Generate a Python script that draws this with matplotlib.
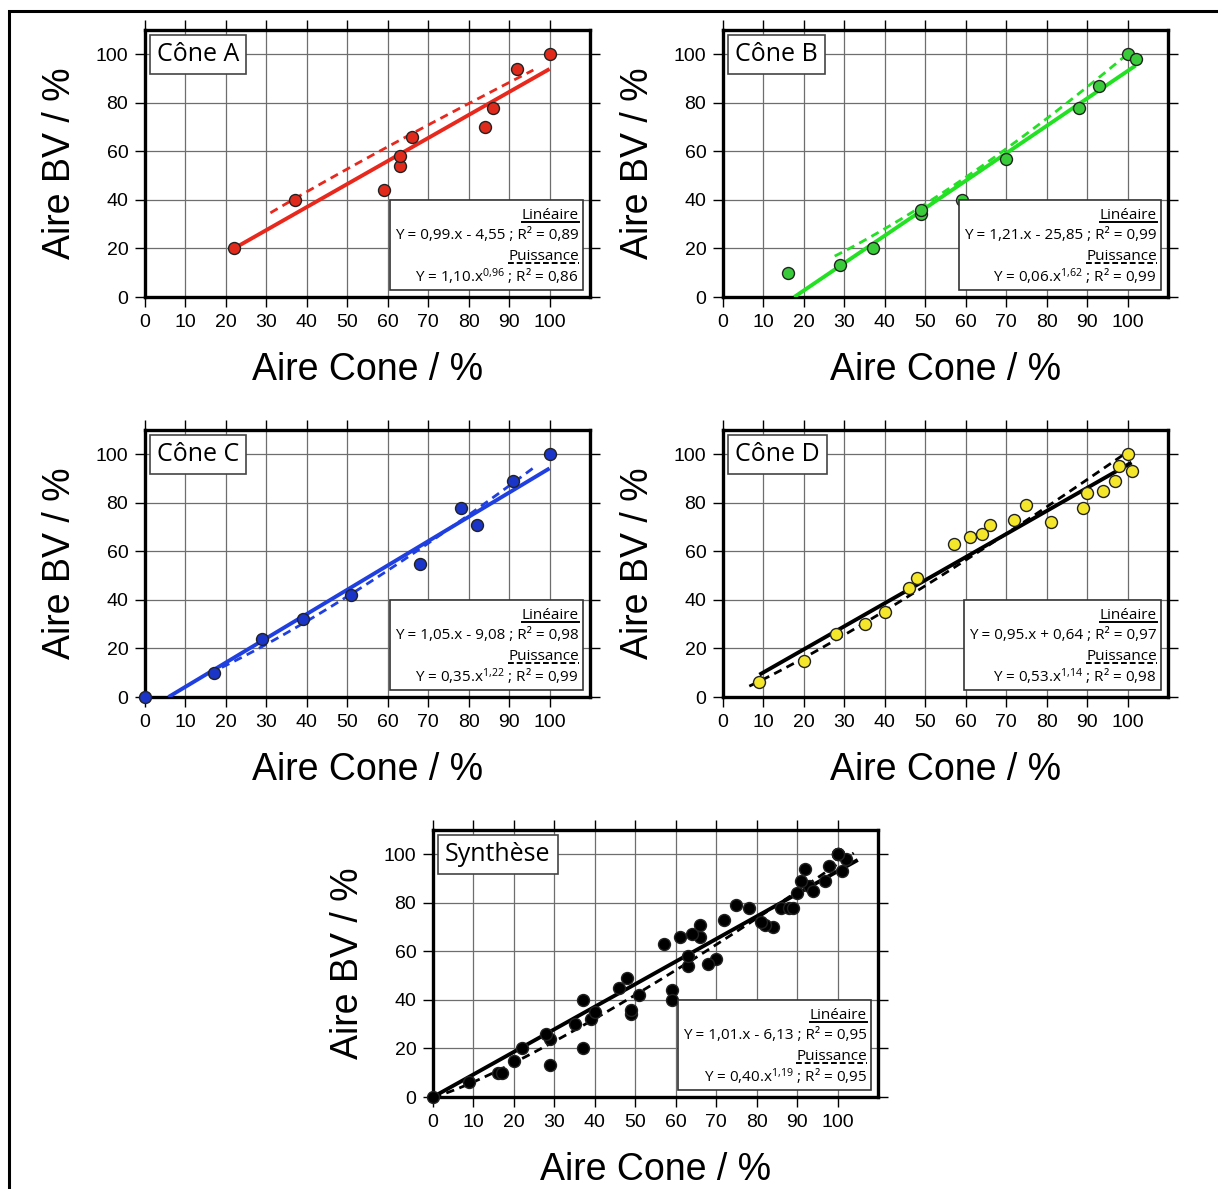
import numpy as np
import matplotlib
matplotlib.use('Agg')
import matplotlib.pyplot as plt
from matplotlib.patches import Rectangle

plt.rcParams['font.family'] = ['Liberation Sans', 'DejaVu Sans']
plt.rcParams['mathtext.default'] = 'regular'

# donnees (Aire Cone %, Aire BV %)
xa = [22, 37, 59, 63, 63, 66, 84, 86, 92, 100]
ya = [20, 40, 44, 54, 58, 66, 70, 78, 94, 100]
xb = [16, 29, 37, 49, 49, 59, 70, 88, 93, 100, 102]
yb = [10, 13, 20, 34, 36, 40, 57, 78, 87, 100, 98]
xc = [0, 17, 29, 39, 51, 68, 78, 82, 91, 100]
yc = [0, 10, 24, 32, 42, 55, 78, 71, 89, 100]
xd = [9, 20, 28, 35, 40, 46, 48, 57, 61, 64, 66, 72, 75, 81, 89, 90, 94, 97, 98, 100, 101]
yd = [6, 15, 26, 30, 35, 45, 49, 63, 66, 67, 71, 73, 79, 72, 78, 84, 85, 89, 95, 100, 93]
xs = xa + xb + xc + xd
ys = ya + yb + yc + yd

titres = ['Cône A', 'Cône B', 'Cône C', 'Cône D', 'Synthèse']
eq_lin = ['Y = 0,99.x - 4,55 ; R² = 0,89', 'Y = 1,21.x - 25,85 ; R² = 0,99',
          'Y = 1,05.x - 9,08 ; R² = 0,98', 'Y = 0,95.x + 0,64 ; R² = 0,97',
          'Y = 1,01.x - 6,13 ; R² = 0,95']
eq_pow = ['Y = 1,10.x$^{0{,}96}$ ; R² = 0,86', 'Y = 0,06.x$^{1{,}62}$ ; R² = 0,99',
          'Y = 0,35.x$^{1{,}22}$ ; R² = 0,99', 'Y = 0,53.x$^{1{,}14}$ ; R² = 0,98',
          'Y = 0,40.x$^{1{,}19}$ ; R² = 0,95']
# droites / courbes telles que tracees (pente, ordonnee, xmin, xmax) et (a, b, xmin, xmax)
lin_trace = [(0.948, -0.86, 22, 100), (1.13, -19.9, 17.6, 102), (1.0, -5.8, 5.8, 100),
             (0.95, 0.64, 9, 101), (0.93, 0.0, 0, 105)]
pow_trace = [(1.70, 0.878, 31, 96), (0.17, 1.385, 27.6, 100), (0.296, 1.263, 19, 96),
             (0.53, 1.14, 6.5, 100), (0.40, 1.19, 0.01, 104)]

couleur_pt = ['#e02a1c', '#3acb3a', '#1a35c8', '#f4e62a', '#000000']
couleur_ln = ['#e8281c', '#22e022', '#1f3fe0', '#000000', '#000000']

W, H = 1218, 1189
def rect(left, right, top, bottom):
	return [left / W, 1 - bottom / H, (right - left) / W, (bottom - top) / H]

positions = [rect(145, 590, 30, 297), rect(723, 1168, 30, 297),
             rect(145, 590, 430, 697), rect(723, 1168, 430, 697),
             rect(433, 878, 830, 1097)]
donnees = [(xa, ya), (xb, yb), (xc, yc), (xd, yd), (xs, ys)]

fig = plt.figure(figsize=(W / 100, H / 100), dpi=100)
fig.patches.append(Rectangle((9 / W, -0.02), 1.0, 1.02 - 11 / H, transform=fig.transFigure,
                             fill=False, ec='black', lw=2.2, clip_on=False))

axes = []
for i in range(5):
	ax = fig.add_axes(positions[i])
	x, y = donnees[i]
	ax.set_xlim(0, 110)
	ax.set_ylim(0, 110)
	ax.set_xticks(np.arange(0, 101, 10))
	ax.set_yticks(np.arange(0, 101, 20))
	ax.grid(True, color='#6e6e6e', lw=0.9)
	ax.set_axisbelow(True)
	ax.tick_params(direction='out', length=7, width=1, labelsize=14, pad=5,
	               top=True, right=True, colors='black')
	for s in ax.spines.values():
		s.set_linewidth(2.4)
	ax.set_xlabel('Aire Cone / %', fontsize=27, labelpad=15)
	ax.set_ylabel('Aire BV / %', fontsize=27, labelpad=13)

	m, c, x0, x1 = lin_trace[i]
	xx = np.linspace(x0, x1, 50)
	ax.plot(xx, m * xx + c, color=couleur_ln[i], lw=2.8, zorder=3, solid_capstyle='butt')
	a, b, x0, x1 = pow_trace[i]
	xx = np.linspace(x0, x1, 100)
	ax.plot(xx, a * xx ** b, color=couleur_ln[i], lw=2.0, ls=(0, (3, 2)), zorder=3)
	ax.scatter(x, y, s=74, c=couleur_pt[i], edgecolors='#222222', linewidths=1.0, zorder=4, clip_on=False)

	ax.text(0.027, 0.955, titres[i], transform=ax.transAxes, ha='left', va='top',
	        fontsize=18, family='Open Sans', zorder=8,
	        bbox=dict(boxstyle='square,pad=0.28', fc='white', ec='#444444', lw=1.2))
	axes.append(ax)

fig.canvas.draw()
renderer = fig.canvas.get_renderer()
for i, ax in enumerate(axes):
	lignes = ['Linéaire', eq_lin[i], 'Puissance', eq_pow[i]]
	ypos = [0.305, 0.229, 0.152, 0.075]
	txts = [ax.text(0.975, yy, s, transform=ax.transAxes, ha='right', va='center',
	                fontsize=11, family='Open Sans', zorder=7) for s, yy in zip(lignes, ypos)]
	fig.canvas.draw()
	inv = ax.transAxes.inverted()
	bbs = [t.get_window_extent(renderer).transformed(inv) for t in txts]
	xg = min(bb.x0 for bb in bbs) - 0.012
	ax.add_patch(Rectangle((xg, 0.025), 0.984 - xg, 0.338, transform=ax.transAxes,
	                       fc='white', ec='#333333', lw=1.2, zorder=6))
	b0 = bbs[0]
	ax.plot([b0.x0, b0.x1], [b0.y0 + 0.004] * 2, transform=ax.transAxes, color='black', lw=1.4, zorder=7)
	b2 = bbs[2]
	ax.plot([b2.x0, b2.x1], [b2.y0 + 0.004] * 2, transform=ax.transAxes, color='black', lw=1.4,
	        ls=(0, (3, 1.5)), zorder=7)

fig.savefig('out.png', dpi=100)
